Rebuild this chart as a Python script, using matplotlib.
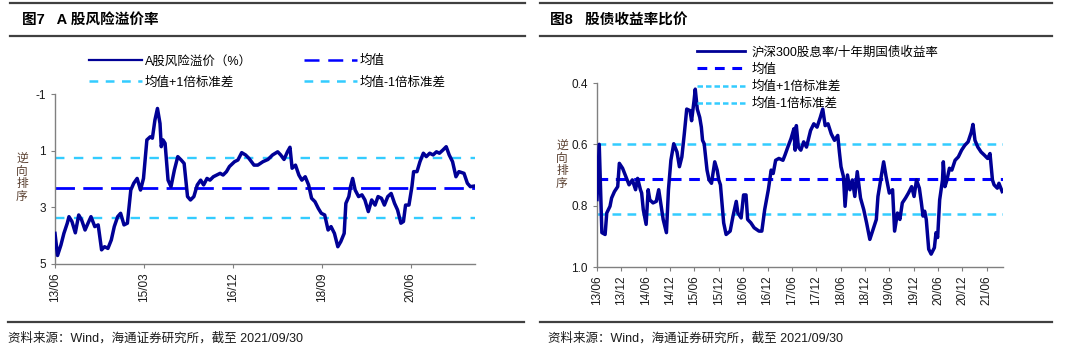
import numpy as np
import matplotlib
matplotlib.use("Agg")
import matplotlib.pyplot as plt
from matplotlib.lines import Line2D

plt.rcParams['font.family'] = ['Liberation Sans', 'Noto Sans CJK SC', 'DejaVu Sans']

# ---- data: chart 7, A-share risk premium (months since 2013/06, value) ----
risk_month = [0, 0.6, 1.4, 2.1, 2.9, 3.3, 4.0, 4.8, 5.6, 6.3, 7.1, 7.8, 8.5, 9.4, 10.2, 11.0,
              11.7, 12.5, 13.3, 14.0, 14.8, 15.5, 16.3, 17.1, 17.9, 18.6, 19.4, 20.2, 20.9,
              21.7, 22.5, 23.0, 23.6, 24.2, 24.8, 25.1, 25.5, 26.0, 26.7, 27.4, 28.2, 29.0,
              29.8, 30.5, 31.3, 32.0, 32.8, 33.6, 34.4, 35.1, 35.9, 36.6, 37.4, 38.2, 39.0,
              39.7, 40.5, 41.2, 42.4, 43.2, 44.1, 45.0, 45.8, 47.0, 47.9, 49.1, 50.3, 51.4,
              52.6, 53.3, 54.1, 54.9, 55.5, 56.0, 56.8, 57.6, 58.3, 59.1, 59.9, 60.6, 61.4,
              62.2, 62.9, 63.7, 64.5, 65.2, 66.0, 66.8, 67.5, 68.3, 68.7, 69.4, 69.8, 70.3,
              70.9, 71.7, 72.5, 73.2, 74.0, 74.8, 75.6, 76.3, 77.1, 77.8, 78.6, 79.4, 80.2,
              80.9, 81.7, 82.3, 82.8, 83.6, 84.3, 84.7, 85.5, 86.2, 87.0, 87.7, 88.5, 89.3,
              90.1, 90.8, 91.6, 92.4, 93.1, 93.9, 94.7, 95.4, 96.6, 97.4, 98.1, 99.0]
risk_value = [3.92, 4.70, 4.33, 3.92, 3.56, 3.33, 3.50, 3.90, 3.27, 3.45, 3.80, 3.56, 3.33,
              3.68, 3.62, 4.50, 4.39, 4.45, 4.15, 3.68, 3.33, 3.21, 3.62, 3.56, 2.39, 2.15,
              1.98, 2.39, 1.98, 0.62, 0.51, 0.56, -0.08, -0.49, 0.04, 0.86, 0.62, 0.74, 2.04,
              2.27, 1.68, 1.21, 1.33, 1.45, 2.62, 2.74, 2.62, 2.21, 2.04, 2.21, 1.98, 2.04,
              1.92, 1.86, 1.80, 1.86, 1.74, 1.56, 1.39, 1.33, 1.07, 1.15, 1.27, 1.51, 1.51,
              1.39, 1.31, 1.15, 1.04, 1.15, 1.31, 1.04, 0.88, 1.62, 1.51, 1.86, 2.04, 1.92,
              2.21, 2.68, 2.80, 3.04, 3.21, 3.27, 3.80, 3.68, 3.92, 4.39, 4.21, 3.92, 2.86,
              2.62, 2.27, 1.98, 2.39, 2.62, 2.56, 2.74, 3.15, 2.74, 2.92, 2.62, 2.68, 2.92,
              2.62, 2.51, 2.86, 3.09, 3.56, 3.50, 2.92, 2.92, 2.27, 1.74, 1.74, 1.39, 1.09,
              1.21, 1.09, 1.15, 1.04, 1.09, 0.98, 0.86, 1.15, 1.39, 1.92, 1.74, 1.80, 2.15,
              2.27, 2.25]
risk_mean = 2.31
risk_upper = 1.26
risk_lower = 3.36
risk_ticks = [0, 21, 42, 63, 84]
risk_ticklabels = ['13/06', '15/03', '16/12', '18/09', '20/06']

# ---- data: chart 8, dividend yield / 10y bond yield ----
ratio_month = [0, 0.55, 0.9, 1.2, 2.0, 2.4, 3.2, 3.6, 4.3, 5.1, 5.5, 6.3, 7.1, 7.9, 8.7, 9.5,
               10.0, 10.7, 11.0, 11.4, 12.1, 12.6, 13.0, 13.8, 14.6, 15.2, 15.8, 16.3, 17.1,
               17.6, 18.2, 18.9, 19.7, 20.3, 20.9, 21.5, 22.1, 22.9, 23.3, 23.9, 24.2, 24.7,
               25.3, 25.7, 26.0, 26.4, 27.1, 27.6, 28.2, 29.0, 29.6, 30.0, 30.4, 31.2, 31.8,
               32.8, 33.5, 34.3, 34.7, 35.5, 36.1, 36.7, 37.1, 37.9, 38.7, 39.9, 40.6, 41.3,
               42.2, 42.9, 43.4, 44.0, 44.8, 45.8, 46.3, 47.0, 47.8, 48.5, 48.8, 49.1, 49.6,
               50.2, 50.9, 51.6, 52.6, 53.4, 54.2, 55.0, 55.6, 56.2, 56.9, 57.7, 58.5, 59.3,
               59.7, 60.1, 60.7, 61.1, 61.7, 62.3, 62.9, 63.5, 64.1, 64.9, 65.7, 66.4, 67.2,
               68.0, 68.8, 69.2, 70.0, 70.6, 71.2, 72.0, 72.8, 73.3, 74.0, 74.6, 75.2, 76.0,
               76.7, 77.5, 78.1, 78.7, 79.4, 79.9, 80.3, 80.7, 81.1, 81.7, 82.3, 83.1, 83.5,
               83.9, 84.4, 85.1, 85.3, 85.7, 86.2, 86.8, 87.4, 88.2, 89.0, 89.8, 90.6, 91.4,
               92.2, 92.6, 93.1, 93.8, 94.6, 95.4, 96.2, 96.8, 97.1, 97.4, 97.8, 98.6, 99.0,
               99.8]
ratio_value = [0.78, 0.60, 0.75, 0.888, 0.894, 0.824, 0.802, 0.775, 0.754, 0.738, 0.662,
               0.678, 0.705, 0.732, 0.716, 0.748, 0.711, 0.748, 0.759, 0.813, 0.861, 0.748,
               0.781, 0.791, 0.786, 0.748, 0.802, 0.845, 0.888, 0.748, 0.652, 0.598, 0.625,
               0.673, 0.641, 0.566, 0.485, 0.490, 0.523, 0.458, 0.420, 0.485, 0.512, 0.544,
               0.587, 0.598, 0.684, 0.716, 0.727, 0.657, 0.684, 0.716, 0.732, 0.856, 0.894,
               0.883, 0.834, 0.786, 0.824, 0.840, 0.765, 0.765, 0.845, 0.856, 0.872, 0.883,
               0.883, 0.813, 0.748, 0.684, 0.695, 0.652, 0.646, 0.652, 0.635, 0.609, 0.581,
               0.549, 0.619, 0.539, 0.609, 0.619, 0.592, 0.609, 0.555, 0.533, 0.544, 0.512,
               0.485, 0.539, 0.533, 0.566, 0.587, 0.571, 0.625, 0.673, 0.705, 0.802, 0.700,
               0.748, 0.716, 0.770, 0.689, 0.775, 0.813, 0.856, 0.910, 0.877, 0.845, 0.770,
               0.705, 0.657, 0.705, 0.759, 0.748, 0.883, 0.824, 0.845, 0.791, 0.775, 0.759,
               0.738, 0.770, 0.716, 0.743, 0.791, 0.834, 0.818, 0.845, 0.942, 0.958, 0.937,
               0.888, 0.904, 0.781, 0.716, 0.657, 0.738, 0.716, 0.678, 0.684, 0.652, 0.641,
               0.619, 0.603, 0.592, 0.560, 0.535, 0.587, 0.609, 0.625, 0.635, 0.646, 0.630,
               0.673, 0.716, 0.732, 0.743, 0.727, 0.754]
ratio_mean = 0.712
ratio_upper = 0.598
ratio_lower = 0.826
ratio_ticks = list(range(0, 97, 6))
ratio_ticklabels = ['13/06', '13/12', '14/06', '14/12', '15/06', '15/12', '16/06', '16/12',
                    '17/06', '17/12', '18/06', '18/12', '19/06', '19/12', '20/06', '20/12',
                    '21/06']

NAVY = '#000096'
BLUE = '#0000FF'
LIGHT = '#33CCFF'
GRAY = '#808080'
RULE = '#404040'
TXT = '#1a1a1a'

W, H = 1080, 355
fig = plt.figure(figsize=(W / 100, H / 100), dpi=100)


def px(x0, y0, x1, y1):
    # pixel box (top-left origin) -> figure fraction rect
    return [x0 / W, 1 - y1 / H, (x1 - x0) / W, (y1 - y0) / H]


def rule(x0, x1, y, lw=1.6):
    fig.add_artist(Line2D([x0 / W, x1 / W], [1 - y / H, 1 - y / H], color=RULE, lw=lw))


def style_axes(ax):
    for s in ['top', 'right']:
        ax.spines[s].set_visible(False)
    for s in ['left', 'bottom']:
        ax.spines[s].set_color(GRAY)
        ax.spines[s].set_linewidth(1.0)
    ax.tick_params(axis='both', colors=GRAY, labelcolor=TXT, labelsize=8.5, length=3, width=0.8)
    ax.tick_params(axis='x', labelrotation=90, pad=3)


# ---------------- left panel ----------------
rule(10, 525, 3)
rule(10, 525, 36)
rule(8, 524, 322)
fig.text(22 / W, 1 - 20 / H, '图7   A 股风险溢价率', fontsize=10.5, fontweight='bold',
         va='center', ha='left', color='black')

ax1 = fig.add_axes(px(55, 94, 475, 264))
ax1.plot(risk_month, risk_value, color=NAVY, lw=2.5, zorder=3)
ax1.axhline(risk_mean, color=BLUE, lw=2.0, dashes=(7, 3), zorder=2)
ax1.axhline(risk_upper, color=LIGHT, lw=1.7, dashes=(4, 4), zorder=2)
ax1.axhline(risk_lower, color=LIGHT, lw=1.7, dashes=(4, 4), zorder=2)
ax1.set_xlim(0, 99.2)
ax1.set_ylim(5, -1)
ax1.set_yticks([-1, 1, 3, 5])
ax1.set_yticklabels(['-1', '1', '3', '5'])
ax1.set_xticks(risk_ticks)
ax1.set_xticklabels(risk_ticklabels)
style_axes(ax1)

# legend handles drawn thinner than the plotted lines, as in the source
h_main = Line2D([], [], color=NAVY, lw=1.6)
h_mean = Line2D([], [], color=BLUE, lw=1.8, dashes=(6, 3.5))
h_std = Line2D([], [], color=LIGHT, lw=1.8, dashes=(3.5, 3))
ax1.legend([h_main, h_std, h_mean, h_std],
           ['A股风险溢价（%）', '均值+1倍标准差', '均值', '均值-1倍标准差'],
           loc='center left', bbox_to_anchor=(89 / W, 1 - 72 / H), bbox_transform=fig.transFigure,
           ncol=2, frameon=False, fontsize=9, handlelength=4.25, handletextpad=0.2,
           columnspacing=4.2, labelspacing=0.75, borderaxespad=0, borderpad=0)
fig.text(22 / W, 1 - 178 / H, '逆\n向\n排\n序', fontsize=8.5, color='#5a4030',
         ha='center', va='center', linespacing=1.1)
fig.text(8 / W, 1 - 338 / H, '资料来源：Wind，海通证券研究所，截至 2021/09/30', fontsize=9,
         ha='left', va='center', color=TXT)

# ---------------- right panel ----------------
rule(540, 1052, 3)
rule(540, 1052, 36)
rule(540, 1052, 322)
fig.text(550 / W, 1 - 20 / H, '图8   股债收益率比价', fontsize=10.5, fontweight='bold',
         va='center', ha='left', color='black')

ax2 = fig.add_axes(px(597, 83, 1003, 267))
ax2.plot(ratio_month, ratio_value, color=NAVY, lw=2.5, zorder=3)
ax2.axhline(ratio_mean, color=BLUE, lw=2.2, dashes=(3.5, 2.5), zorder=2)
ax2.axhline(ratio_upper, color=LIGHT, lw=1.8, dashes=(3.5, 2.5), zorder=2)
ax2.axhline(ratio_lower, color=LIGHT, lw=1.8, dashes=(3.5, 2.5), zorder=2)
ax2.set_xlim(0, 100)
ax2.set_ylim(1.0, 0.4)
ax2.set_yticks([0.4, 0.6, 0.8, 1.0])
ax2.set_yticklabels(['0.4', '0.6', '0.8', '1.0'])
ax2.set_xticks(ratio_ticks)
ax2.set_xticklabels(ratio_ticklabels)
style_axes(ax2)

r_main = Line2D([], [], color=NAVY, lw=2.0)
r_mean = Line2D([], [], color=BLUE, lw=2.2, dashes=(3.2, 2.5))
r_std = Line2D([], [], color=LIGHT, lw=1.8, dashes=(2.2, 1.2))
ax2.legend([r_main, r_mean, r_std, r_std],
           ['沪深300股息率/十年期国债收益率', '均值', '均值+1倍标准差', '均值-1倍标准差'],
           loc='upper left', bbox_to_anchor=(697 / W, 1 - 46 / H), bbox_transform=fig.transFigure,
           ncol=1, frameon=False, fontsize=9, handlelength=3.85, handletextpad=0.5,
           labelspacing=0.4, borderaxespad=0, borderpad=0)
fig.text(562 / W, 1 - 165 / H, '逆\n向\n排\n序', fontsize=8.5, color='#5a4030',
         ha='center', va='center', linespacing=1.1)
fig.text(548 / W, 1 - 338 / H, '资料来源：Wind，海通证券研究所，截至 2021/09/30', fontsize=9,
         ha='left', va='center', color=TXT)

fig.savefig('out.png', dpi=100)
